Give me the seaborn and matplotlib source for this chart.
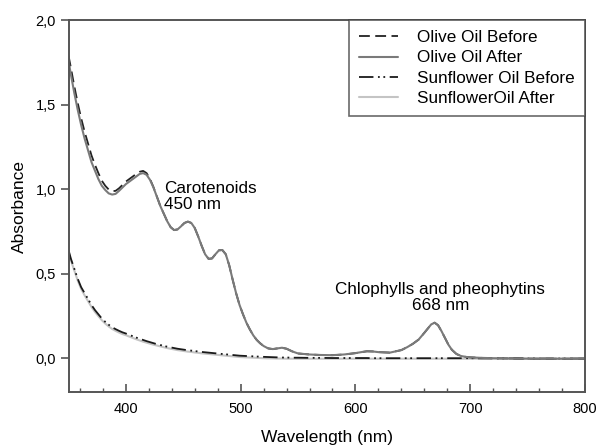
import matplotlib
matplotlib.use("Agg")
import matplotlib.pyplot as plt
import seaborn as sns
import pandas as pd
from matplotlib.ticker import MultipleLocator, FuncFormatter

wavelength = [350, 352, 355, 358, 361, 364, 367, 370, 373, 376, 379, 382, 385, 388, 391, 394, 397,
              400, 403, 406, 409, 412, 415, 418, 421, 424, 427, 430, 433, 436, 439, 442, 445, 448,
              451, 454, 457, 460, 463, 466, 469, 472, 475, 478, 481, 484, 487, 490, 493, 496, 499,
              502, 505, 508, 511, 514, 517, 520, 524, 528, 532, 536, 540, 545, 550, 560, 570, 580,
              590, 600, 605, 610, 615, 620, 630, 640, 645, 650, 655, 660, 663, 666, 669, 672, 675,
              678, 681, 684, 688, 692, 696, 700, 710, 720, 740, 760, 780, 800]

olive_after = [1.76, 1.68, 1.57, 1.47, 1.38, 1.30, 1.23, 1.16, 1.11, 1.06, 1.02, 0.995, 0.975, 0.968,
               0.972, 0.99, 1.01, 1.03, 1.045, 1.06, 1.075, 1.09, 1.095, 1.085, 1.055, 1.01, 0.955,
               0.90, 0.855, 0.81, 0.775, 0.758, 0.762, 0.78, 0.80, 0.808, 0.80, 0.77, 0.72, 0.665,
               0.615, 0.588, 0.59, 0.615, 0.638, 0.64, 0.615, 0.55, 0.465, 0.385, 0.315, 0.26, 0.21,
               0.17, 0.135, 0.108, 0.088, 0.072, 0.058, 0.054, 0.058, 0.062, 0.056, 0.04, 0.028,
               0.022, 0.019, 0.018, 0.022, 0.03, 0.036, 0.041, 0.04, 0.036, 0.033, 0.048, 0.065,
               0.085, 0.11, 0.15, 0.175, 0.2, 0.21, 0.195, 0.16, 0.12, 0.08, 0.05, 0.025, 0.013,
               0.008, 0.005, 0.002, 0.0, -0.002, -0.003, -0.003, -0.003]

olive_before = [1.79, 1.72, 1.61, 1.51, 1.42, 1.34, 1.27, 1.20, 1.145, 1.095, 1.05, 1.02, 0.998, 0.988,
                0.99, 1.005, 1.025, 1.045, 1.06, 1.075, 1.09, 1.103, 1.108, 1.095, 1.06, 1.012, 0.956,
                0.90, 0.855, 0.81, 0.775, 0.758, 0.762, 0.78, 0.80, 0.808, 0.80, 0.77, 0.72, 0.665,
                0.615, 0.588, 0.59, 0.615, 0.638, 0.64, 0.615, 0.55, 0.465, 0.385, 0.315, 0.26, 0.21,
                0.17, 0.135, 0.108, 0.088, 0.072, 0.058, 0.054, 0.058, 0.062, 0.056, 0.04, 0.028,
                0.022, 0.019, 0.018, 0.022, 0.03, 0.036, 0.041, 0.04, 0.036, 0.033, 0.048, 0.065,
                0.085, 0.11, 0.15, 0.175, 0.2, 0.21, 0.195, 0.16, 0.12, 0.08, 0.05, 0.025, 0.013,
                0.008, 0.005, 0.002, 0.0, -0.002, -0.003, -0.003, -0.003]

sunflower_before = [0.64, 0.59, 0.53, 0.47, 0.42, 0.385, 0.35, 0.315, 0.285, 0.26, 0.235, 0.215,
                    0.198, 0.183, 0.172, 0.162, 0.153, 0.146, 0.138, 0.13, 0.122, 0.115, 0.108,
                    0.101, 0.095, 0.089, 0.083, 0.078, 0.073, 0.068, 0.064, 0.06, 0.056, 0.053,
                    0.05, 0.047, 0.045, 0.042, 0.04, 0.037, 0.035, 0.033, 0.031, 0.029, 0.027,
                    0.025, 0.023, 0.021, 0.019, 0.017, 0.015, 0.014, 0.013, 0.012, 0.011, 0.01,
                    0.009, 0.008, 0.007, 0.006, 0.005, 0.004, 0.004, 0.003, 0.003, 0.002, 0.002,
                    0.001, 0.001, 0.001, 0.001, 0.001, 0.0, 0.0, 0.0, 0.0, 0.0, 0.0, 0.0, 0.0,
                    0.0, 0.0, 0.0, 0.0, 0.0, 0.0, 0.0, 0.0, 0.0, 0.0, 0.0, 0.0, -0.001, -0.001,
                    -0.001, -0.002, -0.002, -0.002]

sunflower_after = [0.63, 0.58, 0.52, 0.46, 0.41, 0.372, 0.338, 0.303, 0.274, 0.249, 0.225, 0.205,
                   0.188, 0.173, 0.162, 0.152, 0.143, 0.136, 0.128, 0.12, 0.112, 0.105, 0.098,
                   0.092, 0.086, 0.08, 0.075, 0.07, 0.065, 0.06, 0.056, 0.052, 0.048, 0.045,
                   0.042, 0.039, 0.037, 0.034, 0.032, 0.029, 0.027, 0.025, 0.023, 0.021, 0.019,
                   0.017, 0.015, 0.013, 0.011, 0.009, 0.007, 0.006, 0.005, 0.004, 0.003, 0.002,
                   0.001, 0.0, -0.001, -0.001, -0.002, -0.002, -0.003, -0.003, -0.003, -0.003,
                   -0.003, -0.003, -0.003, -0.003, -0.003, -0.003, -0.003, -0.003, -0.003, -0.003,
                   -0.003, -0.003, -0.003, -0.003, -0.003, -0.003, -0.003, -0.003, -0.003, -0.003,
                   -0.003, -0.003, -0.003, -0.003, -0.003, -0.003, -0.003, -0.003, -0.003, -0.003,
                   -0.003, -0.003]

series_names = ["Olive Oil Before", "Olive Oil After", "Sunflower Oil Before", "SunflowerOil After"]

sns.set_style("white")
plt.rcParams['font.family'] = ['Liberation Sans', 'DejaVu Sans']
plt.rcParams['text.color'] = 'black'
plt.rcParams['axes.labelcolor'] = 'black'
plt.rcParams['xtick.labelcolor'] = 'black'
plt.rcParams['ytick.labelcolor'] = 'black'

fig = plt.figure(figsize=(5.99, 4.47), dpi=100)
ax = fig.add_axes([0.1144, 0.123, 0.8622, 0.832])

styles = [
    dict(color="#222222", lw=1.3, dashes=(6, 3)),
    dict(color="#7a7a7a", lw=1.5, dashes=None),
    dict(color="#1a1a1a", lw=1.3, dashes=(8, 2.5, 1, 2, 1, 2.5)),
    dict(color="#c4c4c4", lw=1.5, dashes=None),
]
values = [olive_before, olive_after, sunflower_before, sunflower_after]
draw_order = [3, 2, 0, 1]
lines = {}
for i in draw_order:
    df = pd.DataFrame({"wl": wavelength, "abs": values[i]})
    st = styles[i]
    sns.lineplot(data=df, x="wl", y="abs", ax=ax, color=st["color"], linewidth=st["lw"],
                 label=series_names[i])
    ln = ax.get_lines()[-1]
    if st["dashes"] is not None:
        ln.set_dashes(st["dashes"])
    lines[i] = ln

ax.set_xlim(350, 800)
ax.set_ylim(-0.2, 2.0)
ax.xaxis.set_major_locator(MultipleLocator(100))
ax.xaxis.set_minor_locator(MultipleLocator(20))
ax.yaxis.set_major_locator(MultipleLocator(0.5))
ax.yaxis.set_major_formatter(FuncFormatter(lambda v, p: f"{v:.1f}".replace(".", ",")))

spine_c = "#555555"
for s in ax.spines.values():
    s.set_color(spine_c)
    s.set_linewidth(1.4)
    s.set_visible(True)
ax.tick_params(axis="x", which="major", direction="in", length=6, width=1.2, color=spine_c,
               labelsize=10.5, pad=7, bottom=True, labelcolor="black")
ax.tick_params(axis="x", which="minor", direction="in", length=3, width=1.0, color=spine_c, bottom=True)
ax.tick_params(axis="y", which="major", direction="out", length=6, width=1.2, color=spine_c,
               labelsize=10.5, left=True, pad=3, labelcolor="black")

ax.set_xlabel("Wavelength (nm)", fontsize=12.5, labelpad=10, color="black")
ax.set_ylabel("Absorbance", fontsize=12.5, labelpad=6, color="black")

ax.text(433, 0.955, "Carotenoids\n450 nm", fontsize=12.3, ha="left", va="center", linespacing=1.1,
        color="black")
ax.text(674, 0.36, "Chlophylls and pheophytins\n668 nm", fontsize=12.3, ha="center", va="center",
        linespacing=1.1, color="black")

handles = [lines[i] for i in range(4)]
leg = ax.legend(handles, series_names, loc="upper right", bbox_to_anchor=(1.0, 1.0),
                borderaxespad=0, fontsize=12.3, frameon=True, fancybox=False,
                handlelength=2.3, handletextpad=1.1, labelspacing=0.3, borderpad=0.6)
leg.get_frame().set_edgecolor("#444444")
leg.get_frame().set_linewidth(1.2)
for t in leg.get_texts():
    t.set_color("black")

fig.savefig("out.png", dpi=100)
